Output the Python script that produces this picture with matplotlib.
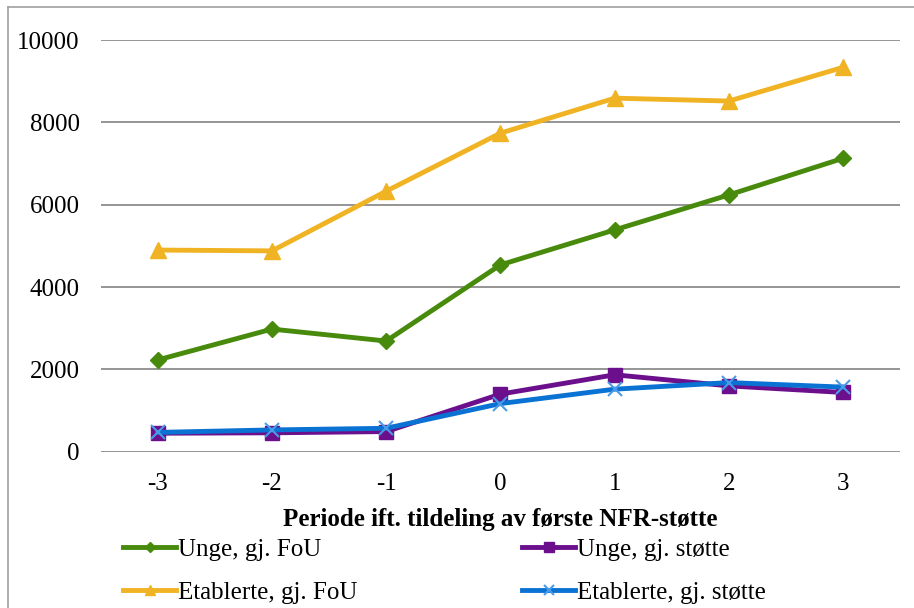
import matplotlib.pyplot as plt
from matplotlib.lines import Line2D

plt.rcParams['font.family'] = ['Liberation Serif', 'DejaVu Serif']

perioder = [-3, -2, -1, 0, 1, 2, 3]
unge_fou = [2230, 2980, 2690, 4540, 5390, 6240, 7130]
etablerte_fou = [4900, 4880, 6330, 7740, 8590, 8520, 9340]
unge_stotte = [450, 460, 490, 1400, 1870, 1600, 1440]
etablerte_stotte = [470, 530, 570, 1170, 1520, 1680, 1570]

fig = plt.figure(figsize=(9.14, 6.08), dpi=100)
ax = fig.add_axes([0.11, 0.257, 0.875, 0.677])

x = list(range(len(perioder)))
ax.plot(x, unge_fou, color='#478A0C', lw=3.5, marker='D', ms=8, label='Unge, gj. FoU', zorder=3)
ax.plot(x, etablerte_fou, color='#F0B323', lw=3.5, marker='^', ms=11, label='Etablerte, gj. FoU', zorder=3)
ax.plot(x, unge_stotte, color='#6B0F8C', lw=3.5, marker='s', ms=10, label='Unge, gj. støtte', zorder=3)
ax.plot(x, etablerte_stotte, color='#0A72D2', lw=3.5, marker='x', ms=10, mew=1.5,
        mec='#4A9BE8', label='Etablerte, gj. støtte', zorder=4)

ax.set_xlim(-0.5, len(perioder) - 0.5)
ax.set_ylim(0, 10000)
ax.set_yticks(range(0, 10001, 2000))
ax.set_xticks(x)
ax.set_xticklabels([str(p) for p in perioder])
ax.yaxis.grid(True, color='#8C8C8C', lw=1.3)
ax.set_axisbelow(True)
for s in ax.spines.values():
    s.set_visible(False)
ax.tick_params(length=0, labelsize=18)
ax.tick_params(axis='x', pad=15)
ax.tick_params(axis='y', pad=15)
ax.set_xlabel('Periode ift. tildeling av første NFR-støtte', fontsize=18,
              fontweight='bold', labelpad=10)

h, l = ax.get_legend_handles_labels()
fig.legend(h, l, ncol=2, loc='upper left', bbox_to_anchor=(0.135, 0.114),
           frameon=False, fontsize=18, handlelength=2.1, handletextpad=0.08,
           columnspacing=6.6, labelspacing=0.8, borderaxespad=0, borderpad=0,
           markerscale=0.7)

# ramme rundt figuren
fig.add_artist(Line2D([0.009, 0.009], [0, 0.989], color='#A0A0A0', lw=1.2))
fig.add_artist(Line2D([0.009, 1], [0.989, 0.989], color='#A0A0A0', lw=1.2))

fig.savefig('out.png', dpi=100)
